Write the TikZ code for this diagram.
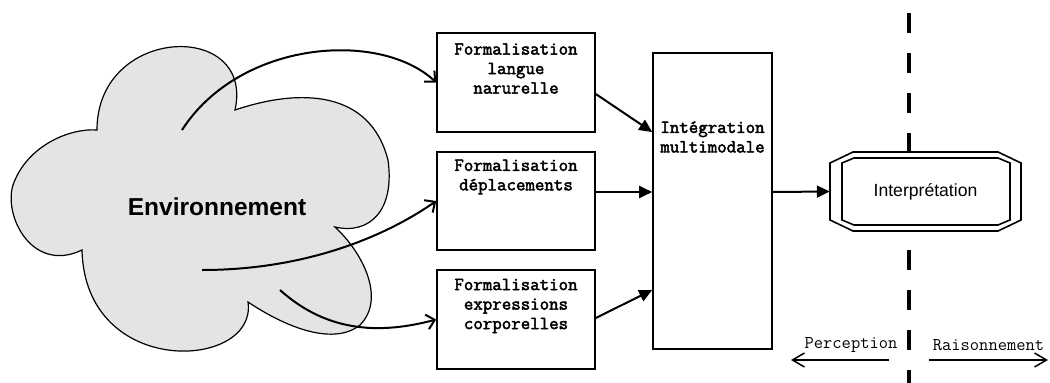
\documentclass[tikz,border=0pt]{standalone}
\usepackage{fontspec}
\setmainfont{Liberation Sans}
\setsansfont{Liberation Sans}
\newfontfamily\ttbold[FakeBold=2.5]{Latin Modern Mono}
\usetikzlibrary{arrows.meta}
\definecolor{cloudgray}{HTML}{E4E4E4}
\begin{document}
\begin{tikzpicture}[x=1pt,y=-1pt,
  fbox/.style={draw, line width=1.6pt, minimum width=158pt, minimum height=98pt, inner sep=0pt},
  btext/.style={font=\ttbold\fontsize{18.4}{19.5}\selectfont, align=center, inner sep=0pt},
  ltext/.style={font=\ttfamily\fontsize{18}{19}\selectfont, inner sep=0pt},
  tarrow/.style={line width=2pt, -{Triangle[length=13pt,width=12pt]}},
  barb/.style={line width=2pt, -{Straight Barb[length=8pt,width=15pt]}},
  sbarb/.style={line width=1.5pt, -{Straight Barb[length=12pt,width=14pt]}},
  divider/.style={line width=4pt, dash pattern=on 20pt off 20pt},
  octo/.style={line width=1.6pt, fill=white},
]
\useasboundingbox (0,0) rectangle (1050,383);

% cloud
\draw[line width=1.2pt, fill=cloudgray] (97,130) .. controls (97,25) and (255,20) .. (235,110)
  .. controls (300,88) and (370,90) .. (388,160)
  .. controls (395,210) and (370,235) .. (335,227)
  .. controls (365,255) and (385,300) .. (360,325)
  .. controls (335,345) and (290,330) .. (248,302)
  .. controls (258,370) and (85,380) .. (82,250)
  .. controls (30,275) and (0,210) .. (15,180)
  .. controls (30,145) and (70,128) .. (97,130) -- cycle;
\node[font=\sffamily\bfseries\fontsize{24.5}{29}\selectfont, inner sep=0pt] (env) at (217,207) {Environnement};

% boxes
\node[fbox, minimum height=99pt] (f1) at (516,82.5) {};
\node[fbox] (f2) at (516,201) {};
\node[fbox, minimum height=99pt] (f3) at (516,319.5) {};
\node[fbox, minimum width=119pt, minimum height=296pt] (int) at (712.5,201) {};

\node[btext] (t1) at (516,68.5) {Formalisation\\langue\\narurelle};
\node[btext] (t2) at (516,177) {Formalisation\\déplacements};
\node[btext] (t3) at (516,306) {Formalisation\\expressions\\corporelles};
\node[btext] (t4) at (712.5,137) {Intégration\\multimodale};

% cloud arrows
\coordinate (c1) at (182,130);
\coordinate (c2) at (202,270);
\coordinate (c3) at (280,290);
\draw[barb] (c1) .. controls (240,40) and (380,30) .. (f1.west);
\draw[barb] (c2) .. controls (300,270) and (380,240) .. (f2.west);
\draw[barb] (c3) .. controls (330,335) and (385,333) .. (f3.west);

% divider
\draw[divider] (909,13) -- (909,153);
\draw[divider] (909,250) -- (909,383);

% interpretation
\draw[octo] (853,152) -- (998,152) -- (1021,163) -- (1021,220) -- (998,231) -- (853,231) -- (830,220) -- (830,163) -- cycle;
\draw[line width=1.6pt] (854,158) -- (998,158) -- (1010,163) -- (1010,220) -- (998,225) -- (854,225) -- (842,220) -- (842,163) -- cycle;
\node[font=\sffamily\fontsize{17.6}{21}\selectfont, minimum width=191pt, minimum height=79pt, inner sep=0pt] (it) at (925.5,191.5) {Interprétation};

% filled arrows
\draw[tarrow] ([yshift=-11.5pt]f1.east) -- ([yshift=69pt]int.west);
\draw[tarrow] ([yshift=9pt]f2.east) -- ([yshift=9pt]int.west);
\draw[tarrow] ([yshift=1.5pt]f3.east) -- ([yshift=-89pt]int.west);
\draw[tarrow] ([yshift=9pt]int.east) -- (it.west);

% perception / raisonnement
\node[ltext] (pe) at (851,345) {Perception};
\node[ltext] (ra) at (988.5,345) {Raisonnement};
\coordinate (pa) at (889,360);
\coordinate (pb) at (791,360);
\coordinate (ra1) at (929,360);
\coordinate (ra2) at (1048,360);
\draw[sbarb] (pa) -- (pb);
\draw[sbarb] (ra1) -- (ra2);
\end{tikzpicture}
\end{document}
